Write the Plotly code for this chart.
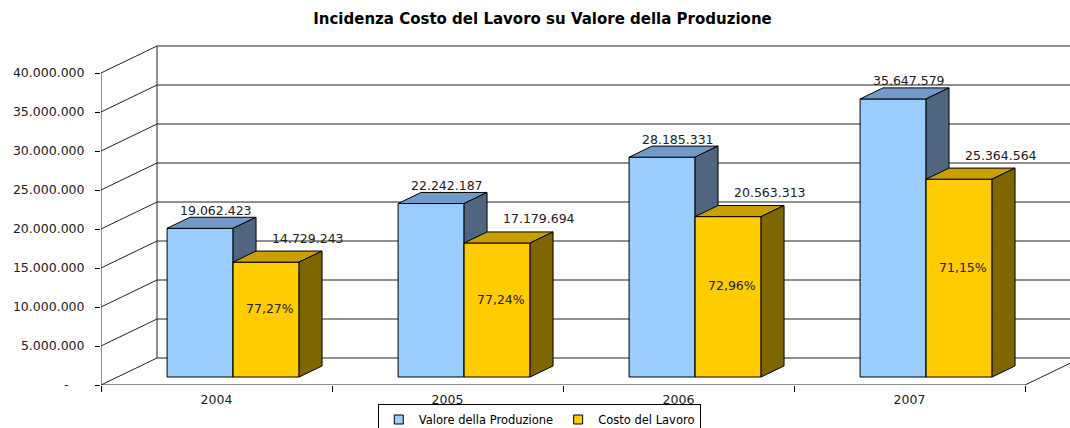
import plotly.graph_objects as go

# ---------------- data ----------------
years = ["2004", "2005", "2006", "2007"]
valore_produzione = [19062423, 22242187, 28185331, 35647579]
costo_lavoro = [14729243, 17179694, 20563313, 25364564]
series_names = ["Valore della Produzione", "Costo del Lavoro"]
y_ticks = [0, 5000000, 10000000, 15000000, 20000000, 25000000, 30000000, 35000000, 40000000]
title_text = "Incidenza Costo del Lavoro su Valore della Produzione"

# ---------------- styling / geometry ----------------
W, H = 1070, 428
ML, MR, MT, MB = 101, 0, 40, 43
CAT_PX = 231.0            # pixels per category
PX_PER_VAL = 7.8e-6       # pixels per unit of value
DEPTH_PX_X, DEPTH_PX_Y = 56.0, 27.0
DX = DEPTH_PX_X / CAT_PX              # depth offset in category units
DY = DEPTH_PX_Y / PX_PER_VAL          # depth offset in value units
D0, D1 = 0.296, 0.706                 # bar depth span (fraction of floor depth)
GROUP_W = 132.0 / CAT_PX
BAR_W = GROUP_W / 2
NCAT = len(years)

x_range = [0, (W - ML - MR) / CAT_PX]
y_range = [0, (H - MT - MB) / PX_PER_VAL]

FONT = "DejaVu Sans"
LBL = 12.5
BLUE = dict(front="#99CCFF", top="#7399C6", side="#4F6580")
YELLOW = dict(front="#FFCC00", top="#C9A000", side="#806600")


def P(x, v, d):
    return x + d * DX, v + d * DY


def poly(points):
    xs = [p[0] for p in points] + [points[0][0]]
    ys = [p[1] for p in points] + [points[0][1]]
    return xs, ys


fig = go.Figure()

# ---------------- walls / floor / gridlines ----------------
lx, ly = [], []
def seg(a, b):
    lx.extend([a[0], b[0], None]); ly.extend([a[1], b[1], None])

ymax = y_ticks[-1]
for v in y_ticks:
    seg(P(0, v, 1), P(NCAT, v, 1))       # back wall gridline
    seg(P(0, v, 0), P(0, v, 1))          # side wall diagonal
seg(P(0, 0, 1), P(0, ymax, 1))           # back-left wall edge
seg(P(0, 0, 0), P(0, ymax, 0))           # front value axis
seg(P(0, 0, 0), P(NCAT, 0, 0))           # floor front edge
seg(P(NCAT, 0, 0), P(NCAT, 0, 1))        # floor right edge
fig.add_trace(go.Scatter(x=lx, y=ly, mode="lines", line=dict(color="#222222", width=1),
                         hoverinfo="skip", showlegend=False))

# ---------------- 3D bars ----------------
def add_bar(xl, v, colors):
    xr = xl + BAR_W
    faces = [
        ([P(xl, 0, D0), P(xr, 0, D0), P(xr, v, D0), P(xl, v, D0)], colors["front"]),
        ([P(xl, v, D0), P(xr, v, D0), P(xr, v, D1), P(xl, v, D1)], colors["top"]),
        ([P(xr, 0, D0), P(xr, 0, D1), P(xr, v, D1), P(xr, v, D0)], colors["side"]),
    ]
    for pts, col in faces:
        xs, ys = poly(pts)
        fig.add_trace(go.Scatter(x=xs, y=ys, mode="lines", fill="toself", fillcolor=col,
                                 line=dict(color="black", width=1), hoverinfo="skip",
                                 showlegend=False))

annotations = []
fmt = lambda n: f"{n:,}".replace(",", ".")
for i in range(NCAT):
    xb = i + 0.5 - GROUP_W / 2
    xy = xb + BAR_W
    add_bar(xb, valore_produzione[i], BLUE)
    add_bar(xy, costo_lavoro[i], YELLOW)
    dm = (D0 + D1) / 2
    # value labels
    bx, by = P(xb + BAR_W / 2, valore_produzione[i], dm)
    annotations.append(dict(x=bx, y=by, xref="x", yref="y", text=fmt(valore_produzione[i]),
                            showarrow=False, yanchor="bottom", yshift=3, xshift=4,
                            font=dict(family=FONT, size=LBL, color="#222222")))
    cx, cy = P(xy + BAR_W / 2, costo_lavoro[i], dm)
    annotations.append(dict(x=cx, y=cy, xref="x", yref="y", text=fmt(costo_lavoro[i]),
                            showarrow=False, yanchor="bottom", yshift=9, xshift=30,
                            font=dict(family=FONT, size=LBL, color="#222222")))
    # percentage label
    pct = costo_lavoro[i] / valore_produzione[i] * 100
    px_, py_ = P(xy + BAR_W / 2, costo_lavoro[i] / 2, D0)
    annotations.append(dict(x=px_, y=py_, xref="x", yref="y",
                            text=f"{pct:.2f}%".replace(".", ","),
                            showarrow=False, yshift=11, xshift=4,
                            font=dict(family=FONT, size=LBL, color="#222222")))

# ---------------- legend entries ----------------
for name, col in zip(series_names, [BLUE["front"], YELLOW["front"]]):
    fig.add_trace(go.Scatter(x=[None], y=[None], mode="markers", name=name,
                             marker=dict(symbol="square", size=9, color=col,
                                         line=dict(color="black", width=1))))

ytext = [fmt(v) if v else "-\u00a0\u00a0\u00a0\u00a0" for v in y_ticks]

fig.update_layout(
    width=W, height=H,
    margin=dict(l=ML, r=MR, t=MT, b=MB, autoexpand=False),
    paper_bgcolor="white", plot_bgcolor="white",
    title=dict(text=f"<b>{title_text}</b>", xref="container", x=0.507, xanchor="center",
               yref="container", y=1 - 19 / H, yanchor="middle",
               font=dict(family=FONT, size=15, color="black")),
    xaxis=dict(range=x_range, tickvals=[i + 0.5 for i in range(NCAT)], ticktext=years,
               ticks="", showgrid=False, zeroline=False, showline=False,
               ticklabelstandoff=5,
               tickfont=dict(family=FONT, size=LBL, color="#222222"),
               minor=dict(tickvals=list(range(NCAT + 1)), ticks="outside", ticklen=6,
                          tickcolor="black", showgrid=False)),
    yaxis=dict(range=y_range, tickvals=y_ticks, ticktext=ytext, ticks="outside", ticklen=5,
               tickcolor="black", showgrid=False, zeroline=False, showline=False,
               ticklabelstandoff=8,
               tickfont=dict(family=FONT, size=LBL, color="#222222")),
    showlegend=True,
    legend=dict(orientation="h", xref="container", yref="container", x=0.504, xanchor="center",
                y=1 - 404 / H, yanchor="top", bordercolor="black", borderwidth=1,
                bgcolor="white", font=dict(family=FONT, size=11.5, color="black"),
                itemwidth=30, tracegroupgap=0),
    annotations=annotations,
)

fig.write_html("out.html", config={"displayModeBar": False},
               post_script="document.body.style.margin='0';document.body.style.overflow='hidden';")
